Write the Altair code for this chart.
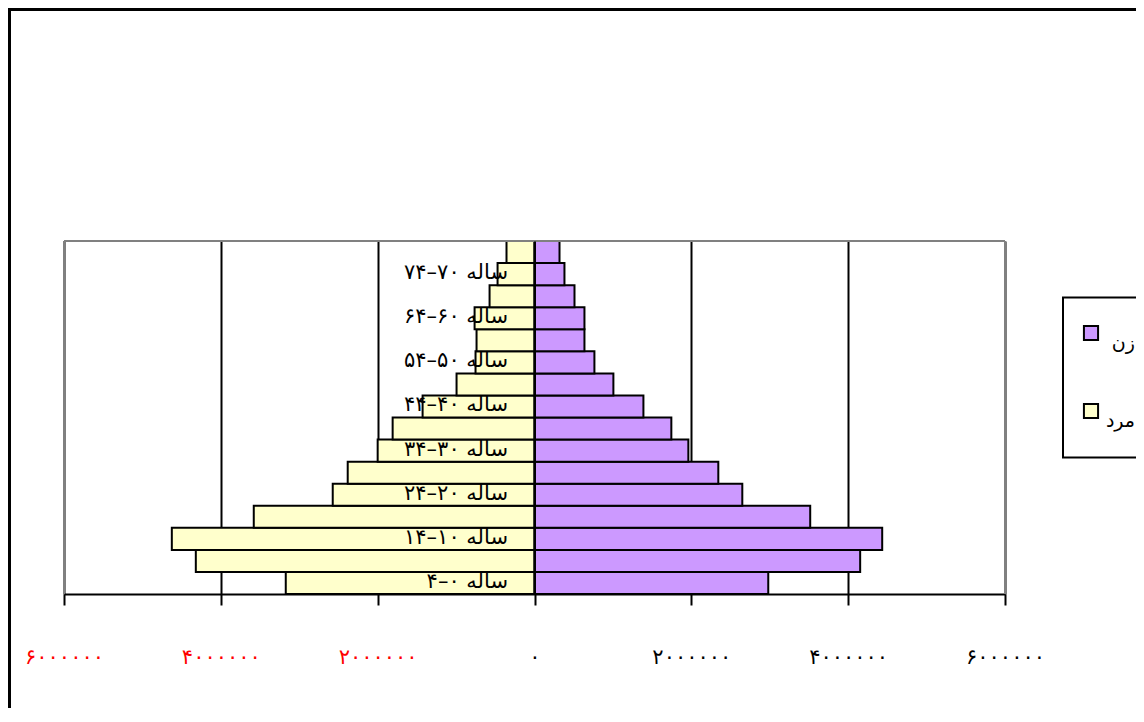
import altair as alt
import pandas as pd

# ---- data ----
ages = ["0-4", "5-9", "10-14", "15-19", "20-24", "25-29", "30-34", "35-39",
        "40-44", "45-49", "50-54", "55-59", "60-64", "65-69", "70-74", "75+"]
age_labels = ["ساله ۰–۴", "", "ساله ۱۰–۱۴", "", "ساله ۲۰–۲۴", "", "ساله ۳۰–۳۴", "",
              "ساله ۴۰–۴۴", "", "ساله ۵۰–۵۴", "", "ساله ۶۰–۶۴", "", "ساله ۷۰–۷۴", ""]
male = [3172000, 4319000, 4625000, 3580000, 2573000, 2382000, 2000000, 1809000,
        1427000, 994000, 752000, 739000, 764000, 573000, 471000, 357000]
female = [2981000, 4153000, 4434000, 3516000, 2650000, 2344000, 1962000, 1745000,
          1389000, 1006000, 764000, 637000, 637000, 510000, 382000, 319000]
series = ["زن", "مرد"]          # female, male
colors = ["#CC99FF", "#FFFFCC"]
ticks = [-6000000, -4000000, -2000000, 0, 2000000, 4000000, 6000000]

FONT = "DejaVu Sans"
W, H = 941, 353
PAD = {"left": 56, "top": 233, "right": 1128 - 56 - W, "bottom": 700 - 233 - H}

fa_digits = str.maketrans("0123456789", "۰۱۲۳۴۵۶۷۸۹")


def fa(n):
    return str(abs(n)).translate(fa_digits)


rows = []
for a, m, f in zip(ages, male, female):
    rows.append({"age": a, "sex": series[1], "value": -m})
    rows.append({"age": a, "sex": series[0], "value": f})
df = pd.DataFrame(rows)

x_label_expr = " : ".join(
    [f"datum.value == {t} ? '{fa(t)}'" for t in ticks]) + " : ''"
y_label_expr = " : ".join(
    [f"datum.value == '{a}' ? '{l}'" for a, l in zip(ages, age_labels)]) + " : ''"

color_scale = alt.Scale(domain=series, range=colors)

bars = alt.Chart(df).mark_bar(stroke="black", strokeWidth=2).encode(
    x=alt.X("value:Q", stack=None,
            scale=alt.Scale(domain=[ticks[0], ticks[-1]], nice=False, zero=False),
            axis=alt.Axis(values=ticks, title=None, grid=True, gridColor="black",
                          gridWidth=2, gridOpacity=1, domainColor="black",
                          domainWidth=2, tickColor="black", tickWidth=2,
                          tickSize=11, labelExpr=x_label_expr, labelFont=FONT,
                          labelFontSize=21, labelPadding=41, labelFlush=False,
                          labelOverlap=False,
                          labelColor={"condition": {"test": "datum.value < 0",
                                                    "value": "red"},
                                      "value": "black"},
                          zindex=0)),
    y=alt.Y("age:N", sort=list(reversed(ages)),
            scale=alt.Scale(paddingInner=0, paddingOuter=0),
            axis=alt.Axis(title=None, orient="left", offset=-W / 2, ticks=False,
                          domainColor="black", domainWidth=2,
                          labelExpr=y_label_expr, labelFont=FONT,
                          labelFontSize=21, labelPadding=27, labelColor="black",
                          labelBaseline="middle", labelOffset=-1, zindex=1)),
    color=alt.Color("sex:N", scale=color_scale, legend=None),
)

one = alt.Data(values=[{}])
gray = "#808080"
frame_top = alt.Chart(one).mark_rule(color=gray, strokeWidth=2).encode(
    x=alt.value(0), x2=alt.value(W), y=alt.value(0))
frame_left = alt.Chart(one).mark_rule(color=gray, strokeWidth=2).encode(
    x=alt.value(0), y=alt.value(0), y2=alt.value(H))
frame_right = alt.Chart(one).mark_rule(color=gray, strokeWidth=2).encode(
    x=alt.value(W), y=alt.value(0), y2=alt.value(H))

outer_left = alt.Chart(one).mark_rule(color="black", strokeWidth=3).encode(
    x=alt.value(-54.5), y=alt.value(-231.5), y2=alt.value(600))
outer_top = alt.Chart(one).mark_rule(color="black", strokeWidth=3).encode(
    x=alt.value(-56), x2=alt.value(1200), y=alt.value(-231.5))

legend_box = alt.Chart(one).mark_rect(fill="white", stroke="black",
                                      strokeWidth=2).encode(
    x=alt.value(999), x2=alt.value(1200), y=alt.value(56.5), y2=alt.value(216.5))

legend_layers = []
for i, s in enumerate(series):
    d = alt.Data(values=[{"sex": s}])
    yy = 92 + i * 78
    sym = alt.Chart(d).mark_square(size=200, opacity=1, stroke="black",
                                   strokeWidth=2, filled=True).encode(
        x=alt.value(1027), y=alt.value(yy),
        color=alt.Color("sex:N", scale=color_scale, legend=None))
    txt = alt.Chart(d).mark_text(font=FONT, fontSize=19, align="right",
                                 baseline="middle", color="black").encode(
        x=alt.value(1071), y=alt.value(yy + 10), text="sex:N")
    legend_layers += [sym, txt]

chart = alt.layer(bars, frame_top, frame_left, frame_right, outer_left, outer_top,
                  legend_box, *legend_layers).properties(
    width=W, height=H,
    autosize=alt.AutoSizeParams(type="none"),
    padding=PAD,
    background="white",
).configure_view(strokeWidth=0)

chart.save("out.html", embed_options={"renderer": "svg", "actions": False})
